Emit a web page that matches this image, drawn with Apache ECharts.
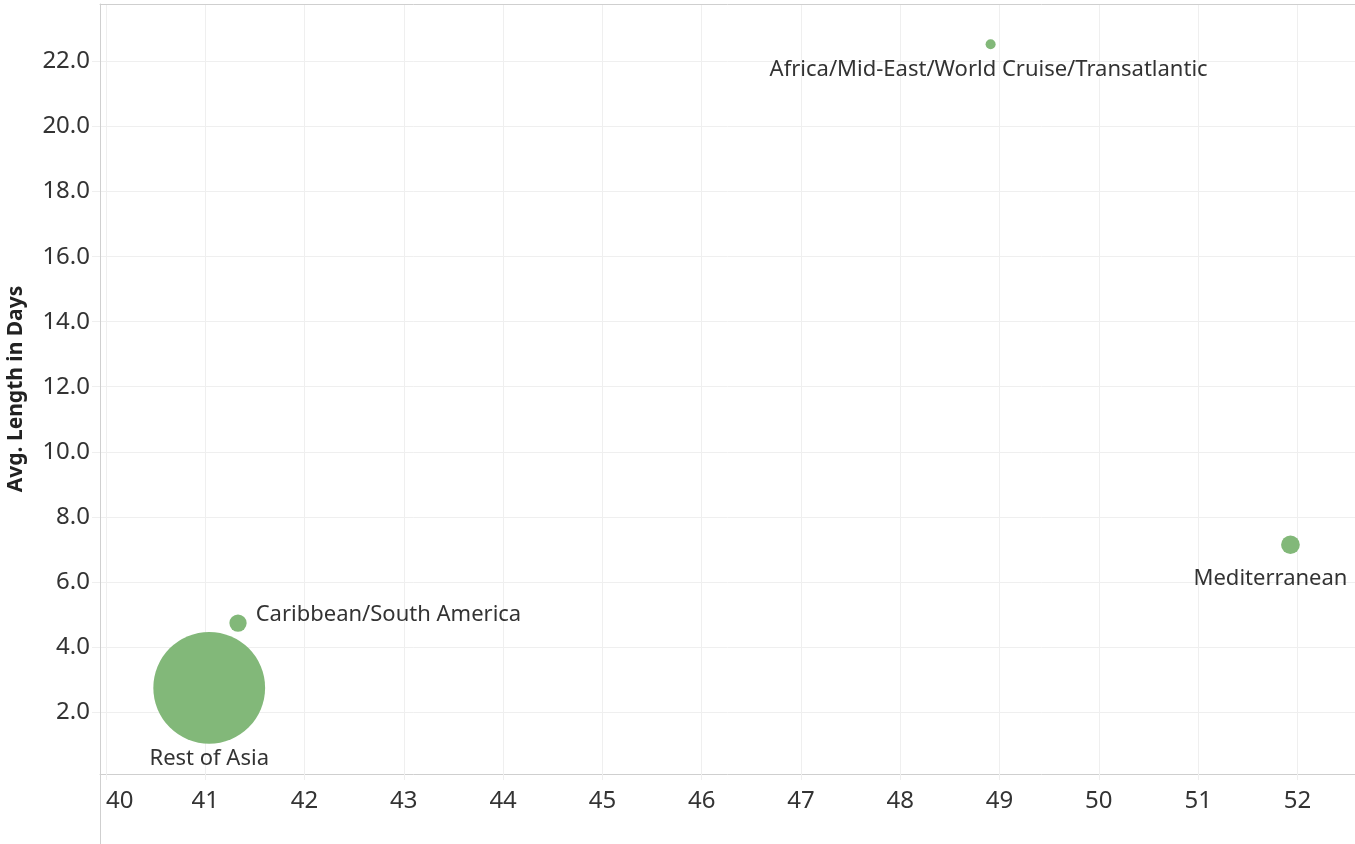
<!DOCTYPE html>
<html>
<head>
<meta charset="utf-8">
<script src="https://cdn.jsdelivr.net/npm/echarts@6/dist/echarts.min.js"></script>
<style>
html,body{margin:0;padding:0;background:#fff;}
#chart{width:1355px;height:844px;}
</style>
</head>
<body>
<div id="chart"></div>
<script>
// ---- data ----
const regions = ['Rest of Asia', 'Caribbean/South America', 'Africa/Mid-East/World Cruise/Transatlantic', 'Mediterranean'];
const xValues = [41.04, 41.33, 48.91, 51.93];
const avgLengthDays = [2.74, 4.73, 22.53, 7.14];
const sizeValues = [125, 3, 1, 3.5];
const xTickValues = [40, 41, 42, 43, 44, 45, 46, 47, 48, 49, 50, 51, 52];
const yTickValues = [2, 4, 6, 8, 10, 12, 14, 16, 18, 20, 22];

// ---- label placement (style) ----
const labelStyles = [
  { position: 'bottom', distance: 4, offset: [0, 0] },
  { position: 'right', distance: 9, offset: [0, -8] },
  { position: 'bottom', distance: 9, offset: [-2, 0] },
  { position: 'bottom', distance: 14, offset: [-20, 0] }
];

const FONT = '"Noto Sans", sans-serif';
const green = '#82b879';

const seriesData = regions.map((name, i) => ({
  name: name,
  value: [xValues[i], avgLengthDays[i], sizeValues[i]],
  label: {
    show: true,
    formatter: name,
    position: labelStyles[i].position,
    distance: labelStyles[i].distance,
    offset: labelStyles[i].offset,
    color: '#333',
    fontFamily: FONT,
    fontSize: 22
  }
}));

const chart = echarts.init(document.getElementById('chart'));
chart.setOption({
  animation: false,
  grid: { left: 100, right: 0, top: 4, bottom: 70, outerBoundsMode: 'none', containLabel: false },
  xAxis: [{
    type: 'value',
    min: 39.94,
    max: 52.58,
    axisLine: { show: true, onZero: false, lineStyle: { color: '#cfcfcf', width: 1 } },
    axisTick: { show: true, customValues: xTickValues, length: 6, lineStyle: { color: '#efefef' } },
    axisLabel: {
      customValues: xTickValues,
      alignMinLabel: 'left',
      color: '#333', fontFamily: FONT, fontSize: 24, margin: 15,
      formatter: v => String(v)
    },
    splitLine: { show: true, lineStyle: { color: '#efefef', width: 1 } }
  }, {
    type: 'value',
    position: 'top',
    min: 39.94,
    max: 52.58,
    axisLine: { show: true, lineStyle: { color: '#cfcfcf', width: 1 } },
    axisTick: { show: false },
    axisLabel: { show: false },
    splitLine: { show: false }
  }],
  yAxis: {
    type: 'value',
    min: 0.09,
    max: 23.77,
    name: 'Avg. Length in Days',
    nameLocation: 'middle',
    nameGap: 73,
    nameTextStyle: { color: '#222', fontFamily: FONT, fontSize: 21, fontWeight: 'bold' },
    axisLine: { show: true, lineStyle: { color: '#cfcfcf', width: 1 } },
    axisTick: { show: true, customValues: yTickValues, length: 8, lineStyle: { color: '#efefef' } },
    axisLabel: {
      customValues: yTickValues,
      color: '#333', fontFamily: FONT, fontSize: 24, margin: 10,
      formatter: v => v.toFixed(1)
    },
    splitLine: { show: true, lineStyle: { color: '#efefef', width: 1 } }
  },
  graphic: [{
    type: 'line',
    shape: { x1: 100.5, y1: 774, x2: 100.5, y2: 844 },
    style: { stroke: '#cfcfcf', lineWidth: 1 },
    silent: true
  }],
  series: [{
    type: 'scatter',
    xAxisIndex: 0,
    data: seriesData,
    symbolSize: d => 10 * Math.sqrt(d[2]),
    itemStyle: { color: green, opacity: 1 }
  }]
});
</script>
</body>
</html>
